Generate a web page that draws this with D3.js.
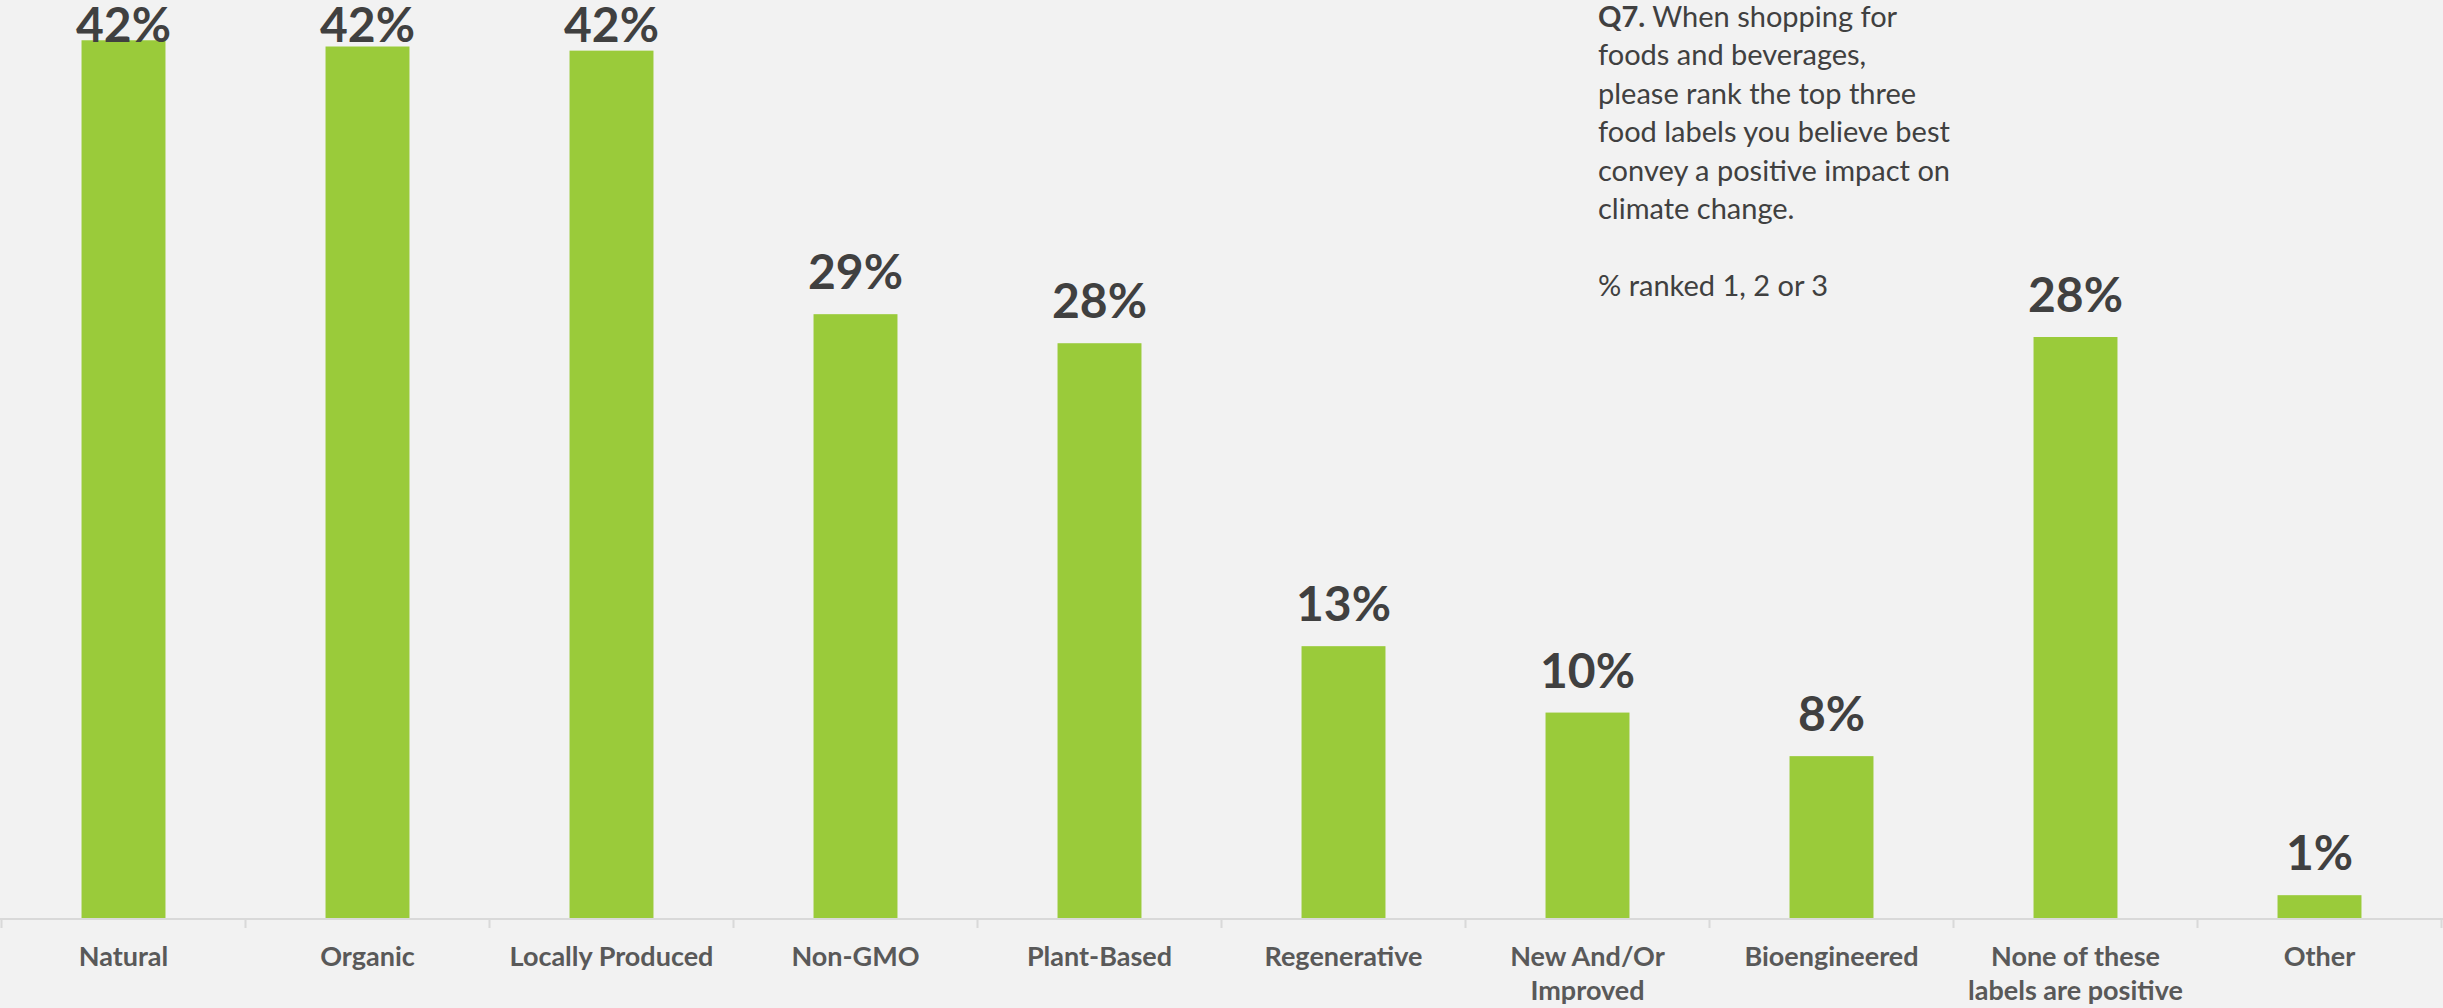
<!DOCTYPE html>
<html>
<head>
<meta charset="utf-8">
<script src="https://cdn.jsdelivr.net/npm/d3@7"></script>
<style>
  html, body { margin: 0; padding: 0; background: #f2f2f2; overflow: hidden; }
  svg { display: block; }
  text { font-family: Lato, "Open Sans", sans-serif; }
</style>
</head>
<body>
<svg id="chart" width="2443" height="1008"></svg>
<script>
// Food labels ranked as conveying a positive climate impact (% ranked 1, 2 or 3)
const categories = [
  "Natural", "Organic", "Locally Produced", "Non-GMO", "Plant-Based",
  "Regenerative", "New And/Or Improved", "Bioengineered",
  "None of these labels are positive", "Other"
];
const shares = [42.3, 42.0, 41.8, 29.1, 27.7, 13.1, 9.9, 7.8, 28.0, 1.1];
const tickLabels = [
  ["Natural"], ["Organic"], ["Locally Produced"], ["Non-GMO"], ["Plant-Based"],
  ["Regenerative"], ["New And/Or", "Improved"], ["Bioengineered"],
  ["None of these", "labels are positive"], ["Other"]
];
const noteLines = [
  [{ t: "Q7.", bold: true }, { t: " When shopping for" }],
  [{ t: "foods and beverages," }],
  [{ t: "please rank the top three" }],
  [{ t: "food labels you believe best" }],
  [{ t: "convey a positive impact on" }],
  [{ t: "climate change." }],
  [],
  [{ t: "% ranked 1, 2 or 3" }]
];

const W = 2443, H = 1008;
const baseY = 918;
const svg = d3.select("#chart");

svg.append("rect").attr("width", W).attr("height", H).attr("fill", "#f2f2f2");

const x = d3.scaleBand()
  .domain(categories)
  .range([1.5, 2441.5])
  .paddingInner(0.656)
  .paddingOuter(0.328);

const slot = d3.scaleBand().domain(categories).range([1.5, 2441.5]).padding(0);

const y = d3.scaleLinear().domain([0, 45]).range([baseY, baseY - 45 * 20.75]);

const data = categories.map((c, i) => ({ c, v: shares[i], lines: tickLabels[i] }));

// bars
svg.append("g").selectAll("rect")
  .data(data)
  .join("rect")
  .attr("x", d => x(d.c))
  .attr("width", x.bandwidth())
  .attr("y", d => y(d.v))
  .attr("height", d => y(0) - y(d.v))
  .attr("fill", "#9acb3a");

// value labels (kept inside the top of the plot)
svg.append("g").selectAll("text")
  .data(data)
  .join("text")
  .attr("x", d => x(d.c) + x.bandwidth() / 2)
  .attr("y", d => Math.max(y(d.v) - 25, 42))
  .attr("text-anchor", "middle")
  .attr("font-size", 48)
  .attr("font-weight", 700)
  .attr("fill", "#404040")
  .text(d => Math.round(d.v) + "%");

// category axis
const axis = svg.append("g").attr("class", "x-axis");
axis.append("line")
  .attr("x1", 0).attr("x2", W)
  .attr("y1", baseY + 1).attr("y2", baseY + 1)
  .attr("stroke", "#d9d9d9").attr("stroke-width", 2);

const bounds = d3.range(categories.length + 1).map(i => slot.range()[0] + i * slot.step());
axis.selectAll("line.tick")
  .data(bounds)
  .join("line")
  .attr("class", "tick")
  .attr("x1", d => d).attr("x2", d => d)
  .attr("y1", baseY + 1).attr("y2", baseY + 10)
  .attr("stroke", "#d9d9d9").attr("stroke-width", 2);

const labels = axis.selectAll("text")
  .data(data)
  .join("text")
  .attr("text-anchor", "middle")
  .attr("font-size", 27)
  .attr("font-weight", 700)
  .attr("fill", "#595959");
labels.selectAll("tspan")
  .data(d => d.lines.map(l => ({ l, c: d.c })))
  .join("tspan")
  .attr("x", d => slot(d.c) + slot.bandwidth() / 2)
  .attr("y", (d, i) => 966 + i * 34)
  .text(d => d.l);

// question note
const note = svg.append("g").attr("fill", "#404040").attr("font-size", 29);
noteLines.forEach((parts, i) => {
  const t = note.append("text").attr("x", 1598).attr("y", 27 + i * 38.4);
  parts.forEach(p => {
    t.append("tspan")
      .attr("font-weight", p.bold ? 700 : 400)
      .attr("xml:space", "preserve")
      .text(p.t);
  });
});
</script>
</body>
</html>
